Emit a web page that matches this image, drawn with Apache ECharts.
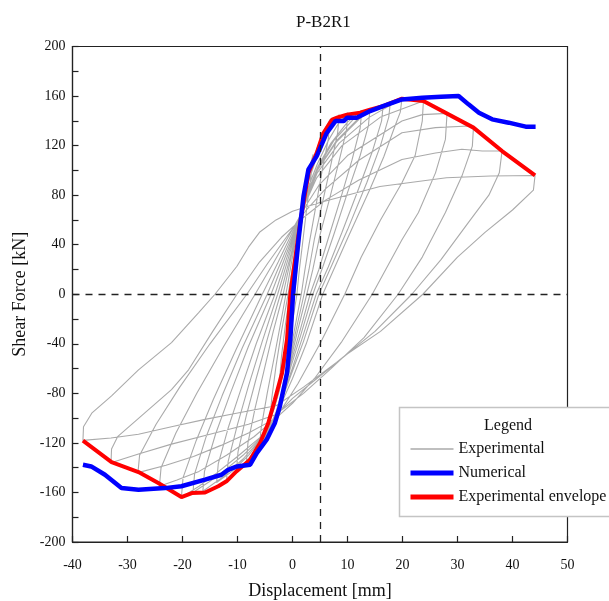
<!DOCTYPE html>
<html><head><meta charset="utf-8">
<script src="https://cdn.jsdelivr.net/npm/echarts@6/dist/echarts.min.js"></script>
<style>html,body{margin:0;padding:0;background:#fff}#c{width:609px;height:601px}</style>
</head><body><div id="c"></div>
<script>
// ---- Data (displacement mm, shear force kN) ----
const xTicks = [-40,-30,-20,-10,0,10,20,30,40,50];
const yTicks = [-200,-160,-120,-80,-40,0,40,80,120,160,200];
const refX = 5, refY = 0;

const cyc01 = [[0,0],[0.4,14],[0.8,28],[0.5,15],[0.15,0],[-0.4,-12],[-0.8,-23]];
const cyc02 = [[-0.6,-12],[-0.2,0],[0.4,22],[1.0,45],[1.5,62],[1.9,72],[1.6,56],[1.0,30],[0.4,0],[-0.5,-25],[-1.4,-47],[-2.3,-66]];
const cyc03 = [[-2.0,-50],[-1.3,-25],[-0.5,0],[0.5,30],[1.5,60],[2.5,88],[3.2,104],[3.75,113],[3.4,97],[2.6,70],[1.8,40],[1.2,18],[0.8,0],[-0.2,-28],[-1.3,-55],[-2.4,-78],[-3.3,-92],[-4.1,-101]];
const cyc04 = [[-3.8,-85],[-3.0,-58],[-2,-30],[-0.8,0],[0.4,32],[1.6,65],[2.8,92],[4,112],[5.3,128],[6.8,141],[6.5,125],[5.4,100],[4.2,70],[3,40],[2.2,18],[1.6,0],[0.3,-30],[-0.8,-57],[-2,-80],[-3,-95],[-4.2,-108],[-5.2,-117],[-6,-123]];
const cyc05 = [[-5.7,-108],[-4.6,-80],[-3.2,-48],[-2.1,-22],[-1.2,0],[0.2,35],[1.5,65],[2.8,90],[4.2,108],[6,128],[7.5,140],[8.5,145],[8.2,130],[7,105],[5.5,75],[4,45],[3,20],[2.1,0],[0.6,-30],[-0.7,-57],[-1.9,-79],[-3,-96],[-4.5,-112],[-6,-124],[-7.3,-131],[-8.4,-136]];
const cyc06 = [[-8.1,-120],[-6.8,-92],[-5.2,-62],[-3.5,-30],[-1.7,0],[0,35],[1.5,65],[3,88],[4.5,105],[6.5,124],[8.5,139],[10.1,146.6],[9.8,132],[8.5,108],[6.8,78],[5,48],[3.7,20],[2.6,0],[0.9,-30],[-0.6,-58],[-1.9,-80],[-3.1,-98],[-4.8,-115],[-6.8,-128],[-8.6,-137],[-10.2,-143]];
const cyc07 = [[-9.9,-127],[-8.4,-98],[-6.6,-68],[-4.5,-35],[-2.2,0],[-0.3,32],[1.3,60],[3,85],[4.6,103],[7,122],[10,139],[12.6,148.4],[12.3,134],[10.8,108],[8.8,78],[6.5,45],[4.8,20],[3.2,0],[1.2,-32],[-0.6,-60],[-2,-82],[-3.2,-99],[-5.3,-116],[-7.5,-130],[-9.8,-142],[-12,-151]];
const cyc08 = [[-11.7,-135],[-10,-105],[-8,-74],[-5.5,-38],[-2.7,0],[-0.7,30],[1.1,58],[2.9,83],[4.6,102],[7.5,124],[11,141],[14.1,149.8],[13.8,136],[12.3,112],[10,82],[7.5,48],[5.5,22],[3.7,0],[1.5,-33],[-0.4,-60],[-2,-84],[-3.3,-100],[-5.5,-116],[-8,-130],[-11,-143],[-13.8,-152]];
const cyc09 = [[-13.5,-137],[-11.7,-108],[-9.4,-77],[-6.6,-40],[-3.2,0],[-1,30],[1,57],[2.9,82],[4.6,101],[8,124],[12,142],[16.5,153.3],[16.2,140],[14.5,115],[12,85],[9,50],[6.5,22],[4.3,0],[1.8,-35],[-0.2,-62],[-2,-85],[-3.4,-101],[-6,-118],[-9,-133],[-12.5,-147],[-16.3,-159]];
const cyc10 = [[-16,-143],[-14,-113],[-11.3,-80],[-8,-42],[-3.9,0],[-1.5,28],[0.8,55],[2.8,80],[4.5,100],[8,123],[12.5,143],[17.8,155],[17.5,143],[16,120],[13.5,90],[10,52],[7,22],[4.8,0],[2,-38],[0,-62],[-2,-86],[-3.5,-102],[-6,-117],[-9,-130],[-12,-141],[-15,-151],[-18.1,-160]];
const cyc11 = [[-17.8,-145],[-15.7,-115],[-12.8,-82],[-9.1,-43],[-4.6,0],[-2,27],[0.5,53],[2.7,78],[4.5,98],[8.5,122],[14,143],[19.9,157.9],[19.6,147],[18.4,133],[16.6,111],[14.1,85],[10,45],[5.5,0],[2.5,-40],[0,-68],[-2,-88],[-3.5,-103],[-6,-116],[-10,-131],[-14,-145],[-17,-155],[-20.2,-164]];
const cyc12 = [[-19.9,-148],[-17.5,-118],[-14.4,-85],[-10.3,-45],[-5.5,0],[-2.6,26],[0.2,52],[2.6,76],[4.4,94],[9,120],[16,143],[23.8,156],[23.6,140],[22.3,112],[19.9,90],[16,60],[12.5,30],[9.5,0],[5,-40],[1,-72],[-3,-100],[-7,-115],[-12,-130],[-17,-143],[-21,-150],[-24.2,-155]];
const cyc13 = [[-23.9,-140],[-21.2,-112],[-17.4,-80],[-12.5,-42],[-6.8,0],[-3.5,25],[-0.3,50],[2.5,72],[4.8,88],[10,112],[19.9,139.8],[23.6,145],[28.1,146],[27.8,125],[26,98],[22.9,66],[19.9,44],[14.5,0],[9,-38],[4,-68],[0,-88],[-3,-100],[-8,-112],[-13,-122],[-18,-131],[-23,-138],[-28.1,-144]];
const cyc14 = [[-27.8,-130],[-24.8,-105],[-20.5,-75],[-15,-40],[-8.3,0],[-4.5,25],[-0.8,48],[2.5,68],[6,85],[12,108],[19.9,130.4],[26,134.5],[32,135.8],[32.9,134.5],[32.7,119.6],[30.8,95.4],[27.8,66],[23.6,30],[19.2,0],[13,-35],[7,-60],[2,-80],[-3,-97],[-8,-105],[-15,-113],[-22,-121],[-28,-129],[-33,-136]];
const cyc15 = [[-32.9,-125],[-31.8,-115],[-26.9,-96],[-22,-77],[-18.9,-61],[-14.5,-30],[-10.1,0],[-6,26],[-2,46],[2,62],[6,76],[12,92],[19.9,108.8],[26,114],[30.8,117],[34.5,115.6],[38.1,115.6],[37.6,98],[35.7,80],[32,58],[27,28],[21.7,0],[15,-30],[8,-55],[2,-75],[-3,-90],[-10.2,-96],[-15.9,-101],[-22,-107],[-28,-113],[-33,-116],[-38.1,-118]];
const cyc16 = [[-38,-107],[-36.5,-96],[-32.9,-82],[-28,-61],[-22,-39],[-17.1,-15],[-14.1,0],[-10.1,22.6],[-8,38],[-6,50],[-3,60],[0,67],[5,74],[15.9,87],[28,94],[36,95.5],[44.1,95.9],[43.8,84],[40,68],[35,50],[30,30],[23.7,0],[16,-30],[10,-48],[5,-66],[0,-84],[-3.5,-100]];

const numerical = [[-38.1,-137.6],[-36.6,-139],[-34.1,-145.7],[-31.1,-156.5],[-28,-157.8],[-23.2,-156.5],[-20.2,-155],[-15.9,-149.7],[-12.9,-145.7],[-11.7,-141.7],[-10.1,-139],[-7.7,-137.6],[-6.5,-128.2],[-4.7,-117.4],[-3.2,-103.9],[-2.3,-90.5],[-1,-63.5],[-0.4,-36.6],[0.1,0],[1.1,44],[2,79],[2.9,100.8],[4.4,111.5],[6.2,130],[7.8,139.8],[9.3,139.8],[9.9,142.5],[11.7,142.5],[14.1,147.9],[16.6,152],[19.9,157.3],[23.6,158.7],[27,159.5],[30.2,160],[32,153.3],[33.9,146.6],[36.3,141.2],[39.3,138.5],[42.4,135.3],[44.2,135.3]];

const envelope = [[-38.1,-118.2],[-32.9,-135.5],[-28,-143.5],[-24.4,-152.4],[-20.2,-163.7],[-18.3,-160.5],[-15.9,-160],[-13.5,-155],[-12,-151],[-10.2,-143],[-8.4,-136.3],[-7.7,-133.6],[-5.9,-120],[-4.4,-104],[-3.2,-85],[-1.9,-63.5],[-1,-36.6],[-0.4,0],[1.4,57.7],[2.9,98],[4.4,114],[5.6,130],[7.2,141],[8.1,142.5],[9.9,145],[12.3,146.6],[14.1,149],[16.6,152],[19.9,157.9],[23.8,156],[32.9,134.5],[38.1,115.6],[44.1,95.9]];

const experimental = [].concat(cyc01,cyc02,cyc03,cyc04,cyc05,cyc06,cyc07,cyc08,cyc09,cyc10,cyc11,cyc12,cyc13,cyc14,cyc15,cyc16);

const FONT = 'Liberation Serif';
const chart = echarts.init(document.getElementById('c'));
chart.setOption({
  animation: false,
  backgroundColor: '#fff',
  title: {text: 'P-B2R1', left: 291, top: 9,
    textStyle: {fontFamily: FONT, fontSize: 17, fontWeight: 'normal', color: '#111'}},
  grid: {left: 72.5, right: 41.5, top: 46.5, bottom: 59, show: true, borderColor: '#222', borderWidth: 1.2,
    backgroundColor: 'transparent', outerBoundsMode: 'none', containLabel: false},
  xAxis: {type: 'value', min: xTicks[0], max: xTicks[xTicks.length-1], interval: 10,
    name: 'Displacement [mm]', nameLocation: 'middle', nameGap: 40,
    nameTextStyle: {fontFamily: FONT, fontSize: 18, color: '#111'},
    axisLine: {onZero: false, lineStyle: {color: '#222', width: 1.2}},
    axisTick: {inside: true, length: 6, lineStyle: {color: '#222', width: 1.2}},
    axisLabel: {margin: 16, fontFamily: FONT, fontSize: 14, color: '#111'},
    splitLine: {show: false}},
  yAxis: {type: 'value', min: yTicks[0], max: yTicks[yTicks.length-1], interval: 40,
    name: 'Shear Force [kN]', nameLocation: 'middle', nameGap: 34, nameRotate: 90,
    nameTextStyle: {fontFamily: FONT, fontSize: 18, color: '#111'},
    axisLine: {onZero: false, lineStyle: {color: '#222', width: 1.2}},
    axisTick: {inside: true, length: 6, lineStyle: {color: '#222', width: 1.2}},
    minorTick: {show: true, splitNumber: 2, length: 6, lineStyle: {color: '#222', width: 1.2}},
    axisLabel: {margin: 7, fontFamily: FONT, fontSize: 14, color: '#111'},
    splitLine: {show: false}, minorSplitLine: {show: false}},
  legend: {
    data: [
      {name: 'Experimental', lineStyle: {width: 1.5}},
      {name: 'Numerical', lineStyle: {width: 5}},
      {name: 'Experimental envelope', lineStyle: {width: 5}}
    ],
    orient: 'vertical', left: 408, top: 441, padding: 0, itemWidth: 43, itemHeight: 10, itemGap: 8,
    itemStyle: {opacity: 0},
    textStyle: {fontFamily: FONT, fontSize: 16, lineHeight: 16, color: '#111'}},
  graphic: [
    {type: 'rect', z: 3, shape: {x: 399.5, y: 407.5, width: 230, height: 109},
      style: {fill: '#fff', stroke: '#c4c4c4', lineWidth: 1.5}},
    {type: 'text', z: 5, x: 508, y: 426, style: {text: 'Legend', font: '16px "Liberation Serif"', fill: '#111', textAlign: 'center', textVerticalAlign: 'middle'}}
  ],
  series: [
    {name: 'Experimental', type: 'line', data: experimental, symbol: 'none', z: 2,
      lineStyle: {color: '#aaaaaa', width: 1.1}, itemStyle: {color: '#aaaaaa'},
      markLine: {silent: true, symbol: ['none', 'none'], label: {show: false},
        lineStyle: {color: '#222', type: [7, 6], width: 1.3},
        data: [{xAxis: refX}, {yAxis: refY}]}},
    {name: 'Experimental envelope', type: 'line', data: envelope, symbol: 'none', z: 3,
      lineStyle: {color: '#ff0000', width: 4}, itemStyle: {color: '#ff0000'}},
    {name: 'Numerical', type: 'line', data: numerical, symbol: 'none', z: 4,
      lineStyle: {color: '#0000ff', width: 4.5}, itemStyle: {color: '#0000ff'}}
  ]
});
</script></body></html>
